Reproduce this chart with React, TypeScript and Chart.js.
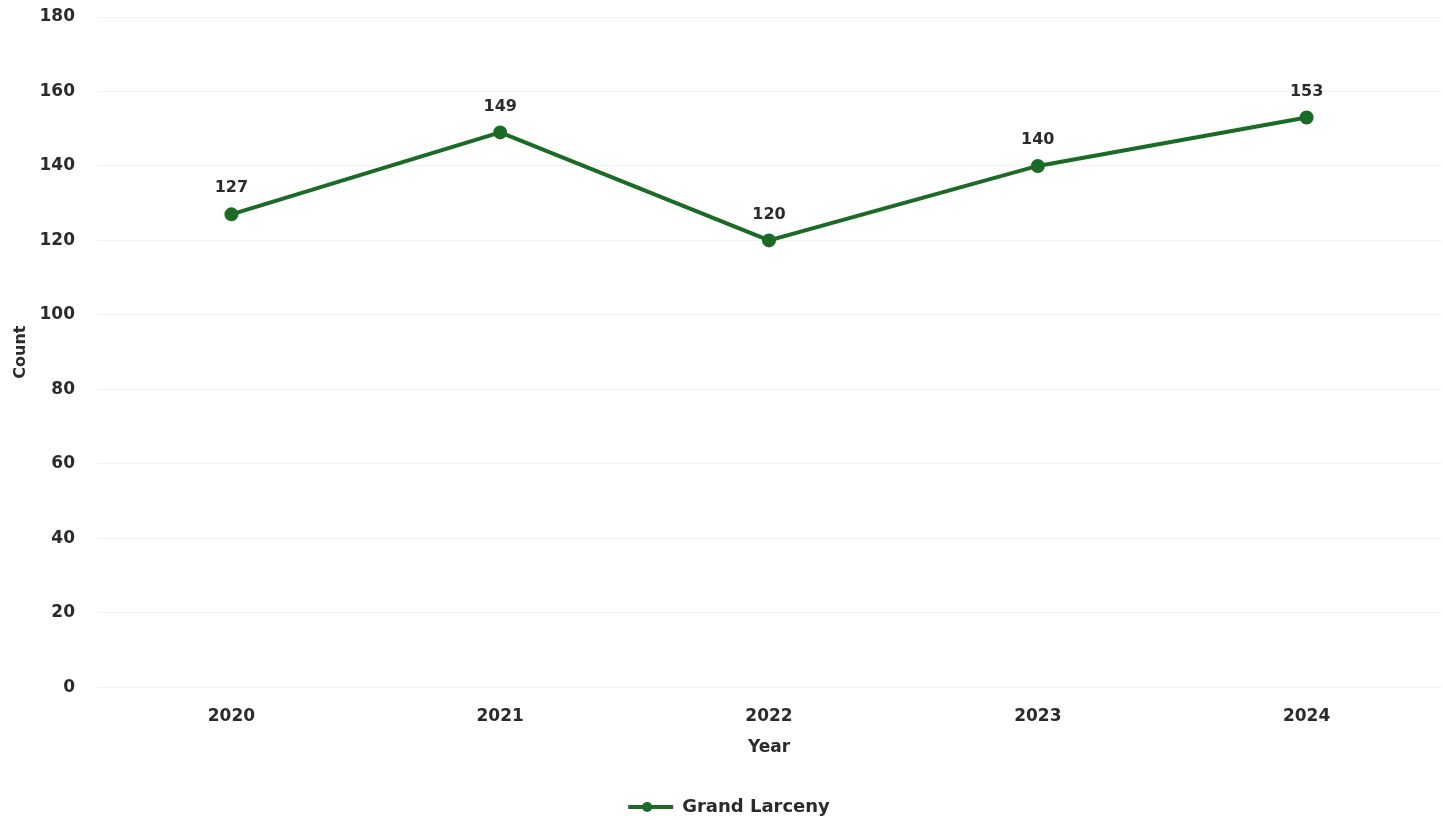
import React, { useEffect, useRef } from "react";
import { Chart, registerables } from "chart.js";

Chart.register(...registerables);

const years = ["2020", "2021", "2022", "2023", "2024"];
const grandLarceny = [127, 149, 120, 140, 153];
const seriesName = "Grand Larceny";
const yTicks = { min: 0, max: 180, step: 20 };

const LINE = "#1b6a26";
const TEXT = "#2b2b2b";
const FONT = "'DejaVu Sans', Verdana, sans-serif";

const dataLabels = {
  id: "dataLabels",
  afterDatasetsDraw(chart: any) {
    const ctx = chart.ctx;
    const meta = chart.getDatasetMeta(0);
    ctx.save();
    ctx.font = `bold 16px ${FONT}`;
    ctx.fillStyle = TEXT;
    ctx.textAlign = "center";
    ctx.textBaseline = "middle";
    meta.data.forEach((pt: any, i: number) => {
      ctx.fillText(String(chart.data.datasets[0].data[i]), pt.x, pt.y - 26);
    });
    ctx.restore();
  },
};

const legendMarker = {
  id: "legendMarker",
  afterDraw(chart: any) {
    const legend = chart.legend;
    if (!legend || !legend.legendHitBoxes) return;
    const ctx = chart.ctx;
    ctx.save();
    legend.legendHitBoxes.forEach((box: any) => {
      const cx = box.left + 19;
      const cy = box.top + box.height / 2;
      ctx.fillStyle = LINE;
      ctx.beginPath();
      ctx.arc(cx, cy, 5, 0, Math.PI * 2);
      ctx.fill();
    });
    ctx.restore();
  },
};

export default function App() {
  const ref = useRef<HTMLCanvasElement>(null);
  useEffect(() => {
    if (!ref.current) return;
    const chart = new Chart(ref.current, {
      type: "line",
      data: {
        labels: years,
        datasets: [
          {
            label: seriesName,
            data: grandLarceny,
            borderColor: LINE,
            backgroundColor: LINE,
            borderWidth: 4,
            pointRadius: 5,
            pointBackgroundColor: LINE,
            pointBorderColor: LINE,
            tension: 0,
          },
        ],
      },
      options: {
        responsive: false,
        animation: false,
        maintainAspectRatio: false,
        layout: { padding: { top: 17, right: 3, left: 11, bottom: -6 } },
        scales: {
          x: {
            offset: true,
            grid: { display: false },
            border: { display: false },
            afterFit: (scale: any) => {
              scale.paddingLeft = 0;
              scale.paddingRight = 0;
            },
            ticks: { color: TEXT, font: { family: FONT, size: 17, weight: "bold" }, padding: 11 },
            title: {
              display: true,
              text: "Year",
              color: TEXT,
              font: { family: FONT, size: 17, weight: "bold" },
              padding: { top: 0, bottom: 36 },
            },
          },
          y: {
            min: yTicks.min,
            max: yTicks.max,
            grid: { color: "#f2f2f2", lineWidth: 1, drawTicks: false },
            border: { display: false },
            afterFit: (scale: any) => {
              scale.paddingTop = 0;
              scale.paddingBottom = 0;
              scale.width = 86;
            },
            ticks: {
              stepSize: yTicks.step,
              color: TEXT,
              font: { family: FONT, size: 17, weight: "bold" },
              padding: 22,
            },
            title: {
              display: true,
              text: "Count",
              color: TEXT,
              font: { family: FONT, size: 16, weight: "bold" },
              padding: { top: 0, bottom: 10 },
            },
          },
        },
        plugins: {
          tooltip: { enabled: false },
          legend: {
            position: "bottom",
            labels: {
              usePointStyle: true,
              pointStyle: "line",
              pointStyleWidth: 45,
              boxHeight: 4,
              color: TEXT,
              font: { family: FONT, size: 18, weight: "bold" },
              padding: 4,
            },
          },
        },
      },
      plugins: [dataLabels, legendMarker],
    });
    return () => chart.destroy();
  }, []);
  return (
    <div style={{ position: "absolute", left: 0, top: 0, width: 1443, height: 820, overflow: "hidden", background: "#fff" }}>
      <div style={{ width: 1450, height: 820 }}>
        <canvas ref={ref} width={1450} height={820} style={{ display: "block" }} />
      </div>
    </div>
  );
}
